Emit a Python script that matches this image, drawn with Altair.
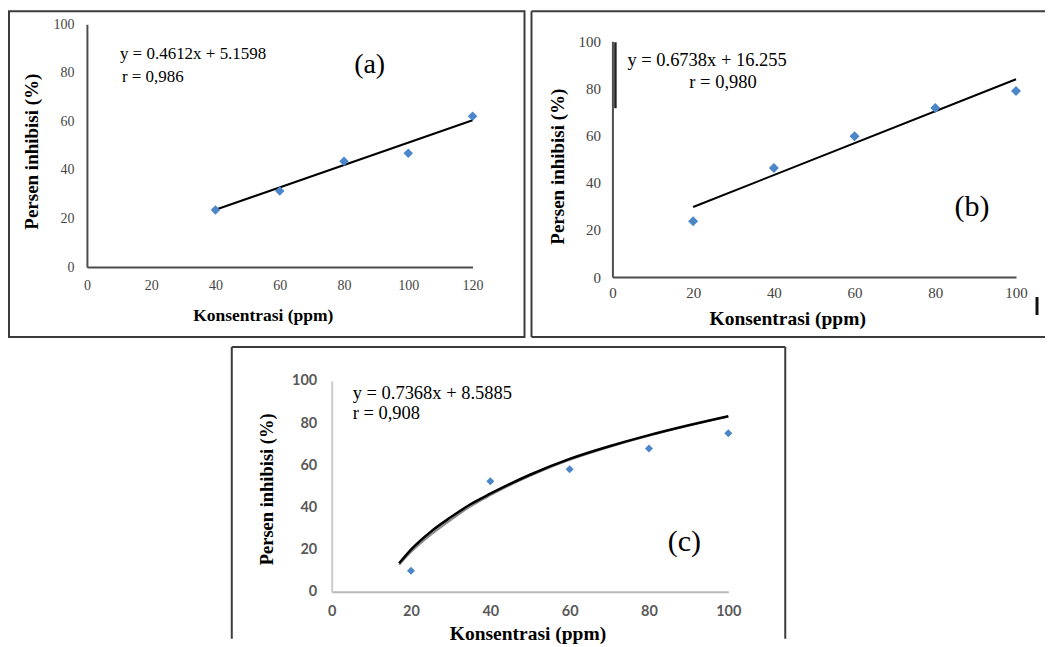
import altair as alt
import pandas as pd

SERIF = "Liberation Serif"
SANS = "Lato"
BLUE = "#4a86c8"
FRAME = "#3c3c3c"

# ---------------- data ----------------
y_ticks = [0, 20, 40, 60, 80, 100]
x_title = "Konsentrasi (ppm)"
y_title = "Persen inhibisi (%)"

# panel (a)
a_conc = [40, 60, 80, 100, 120]
a_inhib = [23.5, 31.3, 43.6, 46.9, 62.1]
a_fit_conc = [40, 120]
a_fit_inhib = [23.6, 60.5]
a_x_ticks = [0, 20, 40, 60, 80, 100, 120]
a_eq = "y = 0.4612x + 5.1598"
a_r = "r = 0,986"
a_tag = "(a)"

# panel (b)
b_conc = [20, 40, 60, 80, 100]
b_inhib = [23.7, 46.2, 59.7, 71.7, 78.9]
b_fit_conc = [20, 100]
b_fit_inhib = [29.7, 83.9]
b_x_ticks = [0, 20, 40, 60, 80, 100]
b_eq = "y = 0.6738x + 16.255"
b_r = "r = 0,980"
b_tag = "(b)"

# panel (c)
c_conc = [20, 40, 60, 80, 100]
c_inhib = [10.0, 52.4, 58.1, 68.0, 75.2]
c_fit_conc = [17, 20, 25, 30, 35, 40, 50, 60, 70, 80, 90, 100]
c_fit_inhib = [13.5, 20.0, 28.5, 35.3, 41.5, 46.5, 55.5, 63.0, 69.0, 74.3, 79.0, 83.3]
c_fit2_inhib = [12.8, 18.8, 27.0, 34.0, 40.5, 45.8, 55.0, 62.6, 68.7, 74.0, 78.8, 83.1]
c_x_ticks = [0, 20, 40, 60, 80, 100]
c_eq = "y = 0.7368x + 8.5885"
c_r = "r = 0,908"
c_tag = "(c)"


def one():
    return pd.DataFrame({"k": [0]})


def note(text, px, py, size, align="left"):
    return alt.Chart(one()).mark_text(
        text=text, align=align, baseline="middle", font=SERIF,
        fontSize=size, color="black"
    ).encode(x=alt.value(px), y=alt.value(py))


def rule(x1, y1, x2, y2, color=FRAME, w=2):
    return alt.Chart(one()).mark_rule(color=color, strokeWidth=w).encode(
        x=alt.value(x1), x2=alt.value(x2), y=alt.value(y1), y2=alt.value(y2)
    )


def encodings(c):
    xs = alt.Scale(domain=[0, c["xmax"]], range=c["xrange"], nice=False, zero=False)
    ys = alt.Scale(domain=[0, 100], range=c["yrange"], nice=False, zero=False)
    xax = alt.Axis(
        values=c["xticks"], offset=c["xoff"], ticks=False, tickSize=0, grid=False,
        domainColor=c["axcolor"], domainWidth=c["axwidth"],
        labelFont=c["lfont"], labelFontSize=c["lsize"], labelFontWeight=c["lweight"],
        labelColor=c["lcolor"], labelPadding=c["xlpad"], labelFlush=False,
        labelOverlap=False, format="d",
        title=x_title, titleFont=SERIF, titleFontSize=c["xtsize"], titleFontWeight="bold",
        titleColor="black", titleX=c["xtx"], titleY=c["xty"], titleAlign="center",
        titleBaseline="middle", titleAngle=0,
    )
    yax = alt.Axis(
        values=y_ticks, offset=c["yoff"], ticks=False, tickSize=0, grid=False,
        domainColor=c["aycolor"], domainWidth=c["axwidth"],
        labelFont=c["lfont"], labelFontSize=c["lsize"], labelFontWeight=c["lweight"],
        labelColor=c["lcolor"], labelPadding=c["ylpad"], labelFlush=False,
        labelOverlap=False, format="d",
        title=y_title, titleFont=SERIF, titleFontSize=c["ytsize"], titleFontWeight="bold",
        titleColor="black", titleX=c["ytx"], titleY=c["yty"], titleAlign="center",
        titleBaseline="middle", titleAngle=270,
    )
    return alt.X("x:Q", scale=xs, axis=xax), alt.Y("y:Q", scale=ys, axis=yax)


# ---------------- panel (a) ----------------
A = dict(W=516, H=326, xmax=120, xrange=[78, 464], yrange=[256, 13], xticks=a_x_ticks,
         xoff=-70, yoff=-78, axcolor="#4d4d4d", aycolor="#4d4d4d", axwidth=2,
         lfont=SERIF, lsize=14, lweight="normal", lcolor="#444444", xlpad=11, ylpad=13,
         xtsize=17.5, xtx=254, xty=48, ytsize=19, ytx=-55, yty=140)
ax, ay = encodings(A)
panel_a = alt.layer(
    alt.Chart(one()).mark_rect(fillOpacity=0, stroke=FRAME, strokeWidth=2).encode(
        x=alt.value(0), x2=alt.value(A["W"]), y=alt.value(0), y2=alt.value(A["H"])),
    alt.Chart(pd.DataFrame({"x": a_fit_conc, "y": a_fit_inhib})).mark_line(
        color="black", strokeWidth=2).encode(x=ax, y=ay),
    alt.Chart(pd.DataFrame({"x": a_conc, "y": a_inhib})).mark_point(
        shape="diamond", filled=True, size=90, color=BLUE, opacity=1).encode(x=ax, y=ay),
    note(a_eq, 111, 43, 17),
    note(a_r, 113, 66, 17),
    note(a_tag, 361, 54, 28, align="center"),
).properties(width=A["W"], height=A["H"])

# ---------------- panel (b) ----------------
B = dict(W=514, H=326, xmax=100, xrange=[81, 485], yrange=[266, 30], xticks=b_x_ticks,
         xoff=-60, yoff=-81, axcolor="#4d4d4d", aycolor="#4d4d4d", axwidth=2,
         lfont=SERIF, lsize=15, lweight="normal", lcolor="#444444", xlpad=8, ylpad=12,
         xtsize=19.5, xtx=256, xty=41, ytsize=19, ytx=-55, yty=155)
bx, by = encodings(B)
panel_b = alt.layer(
    rule(0, 0, B["W"], 0),
    rule(0, 0, 0, B["H"]),
    rule(0, B["H"], B["W"], B["H"]),
    rule(84, 31, 84, 97, color="#222222", w=2.5),
    rule(506, 286, 506, 304, color="#111111", w=3),
    alt.Chart(pd.DataFrame({"x": b_fit_conc, "y": b_fit_inhib})).mark_line(
        color="black", strokeWidth=2).encode(x=bx, y=by),
    alt.Chart(pd.DataFrame({"x": b_conc, "y": b_inhib})).mark_point(
        shape="diamond", filled=True, size=100, color=BLUE, opacity=1).encode(x=bx, y=by),
    note(b_eq, 96, 49, 18.5),
    note(b_r, 158, 71, 18.5),
    note(b_tag, 441, 196, 30, align="center"),
).properties(width=B["W"], height=B["H"])

# ---------------- panel (c) ----------------
# view starts at the left edge of panel (a); the frame of (c) starts CS pixels further right
CS = 223
C = dict(W=CS + 554, H=292, xmax=100, xrange=[CS + 100, CS + 497], yrange=[245, 34],
         xticks=c_x_ticks, xoff=-47, yoff=-(CS + 100), axcolor="#b8b8b8", aycolor="#cccccc",
         axwidth=2, lfont=SANS, lsize=14.5, lweight="bold", lcolor="#595959", xlpad=13,
         ylpad=15, xtsize=19.5, xtx=CS + 296, xty=42, ytsize=18.5, ytx=-65, yty=142)
cx, cy = encodings(C)
panel_c = alt.layer(
    rule(CS, 0, CS + 554, 0),
    rule(CS, 0, CS, C["H"]),
    rule(CS + 554, 0, CS + 554, C["H"]),
    alt.Chart(pd.DataFrame({"x": c_fit_conc, "y": c_fit2_inhib})).mark_line(
        color="#8a8a8a", strokeWidth=2, interpolate="monotone").encode(x=cx, y=cy),
    alt.Chart(pd.DataFrame({"x": c_fit_conc, "y": c_fit_inhib})).mark_line(
        color="black", strokeWidth=2.5, interpolate="monotone").encode(x=cx, y=cy),
    alt.Chart(pd.DataFrame({"x": c_conc, "y": c_inhib})).mark_point(
        shape="diamond", filled=True, size=64, color=BLUE, opacity=1).encode(x=cx, y=cy),
    note(c_eq, CS + 121, 46, 18.5),
    note(c_r, CS + 121, 66, 18.5),
    note(c_tag, CS + 453, 195, 30, align="center"),
).properties(width=C["W"], height=C["H"])

top = alt.hconcat(panel_a, panel_b, spacing=7, bounds="flush")

chart = alt.vconcat(top, panel_c, spacing=8).properties(
    padding={"left": 0, "top": 2, "right": 0, "bottom": 0},
    background="white",
).configure_view(strokeWidth=0)

chart.save("out.html", embed_options={"renderer": "svg", "actions": False})
